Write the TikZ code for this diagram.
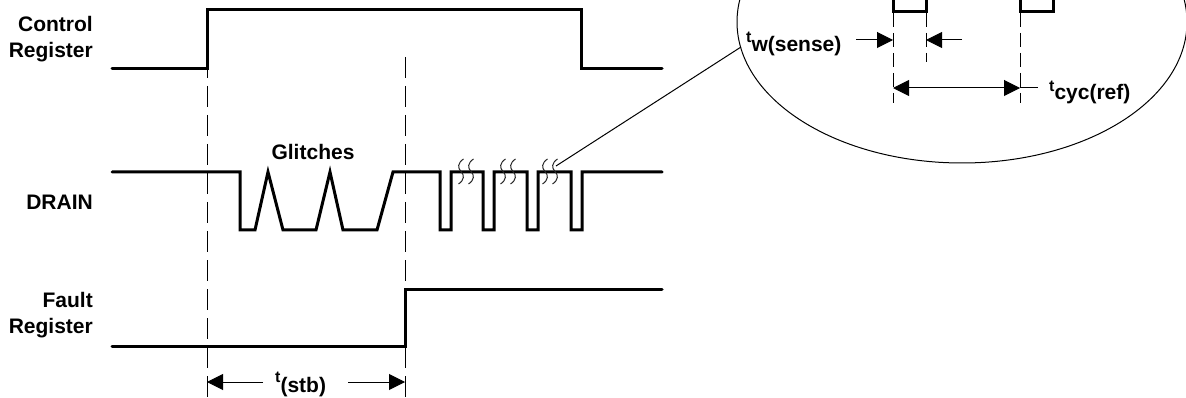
\documentclass[tikz,border=0pt]{standalone}
\usepackage{fontspec}
\setmainfont{Liberation Sans}
\usetikzlibrary{arrows.meta}
\newcommand\tsubx[2][-9pt]{{\fontsize{16}{16}\selectfont t}\raisebox{#1}{#2}}
\begin{document}
\begin{tikzpicture}[x=1pt,y=-1pt,
  sig/.style={line width=3pt,line join=miter,line cap=round},
  guide/.style={line width=1pt,dash pattern=on 21pt off 8pt},
  guidesmall/.style={line width=1pt,dash pattern=on 14pt off 6pt},
  thin/.style={line width=1pt},
  dim/.style={line width=1pt,-{Triangle[length=16pt,width=16pt]}},
  lbl/.style={inner sep=0pt,font=\fontsize{21}{25}\selectfont\bfseries}]
\useasboundingbox (0,0) rectangle (1186,398);
\clip (0,0) rectangle (1186,398);
% labels
\node[lbl,anchor=base east] (c1) at (93,32) {Control};
\node[lbl,anchor=base east] (c2) at (93,58) {Register};
\node[lbl,anchor=base east] (dr) at (93,210) {DRAIN};
\node[lbl,anchor=base east] (f1) at (93,307) {Fault};
\node[lbl,anchor=base east] (f2) at (93,333) {Register};
\node[lbl,anchor=base] (gl) at (313,160) {Glitches};
% guide lines
\draw[guide] (207,57) -- (207,398);
\draw[guide] (405,57) -- (405,398);
% control register
\draw[sig] (112,69) -- (207,69) -- (207,10) -- (581,10) -- (581,69) -- (662,69);
% drain
\draw[sig] (112,172) -- (240,172) -- (240,230) -- (255,230) -- (268,172) -- (283,230)
  -- (316,230) -- (330,172) -- (343,230) -- (377,230) -- (393,172) -- (440,172)
  -- (440,230) -- (451,230) -- (451,172) -- (483,172) -- (483,230) -- (494,230)
  -- (494,172) -- (527,172) -- (527,230) -- (538,230) -- (538,172) -- (571,172)
  -- (571,230) -- (582,230) -- (582,172) -- (662,172);
% squiggles
\foreach \x in {461,471,503,513,545,555}{
  \draw[line width=1pt,black!85] (\x+2.5,159) .. controls (\x-3.5,163) and (\x-3.5,168) .. (\x,171.5)
    .. controls (\x+3.5,175) and (\x+3.5,180) .. (\x-2.5,184);
}
% fault register
\draw[sig] (112,346) -- (405,346) -- (405,289) -- (662,289);
% t(stb)
\draw[dim] (263,382) -- (207,382);
\draw[dim] (348,382) -- (405,382);
\node[lbl,anchor=base west] (tstb) at (275,382) {\tsubx[-10pt]{(stb)}};
% magnifier
\coordinate (lead1) at (556,166);
\coordinate (lead2) at (741,47);
\draw[thin] (lead1) -- (lead2);
\draw[thin] (962,22) ellipse [x radius=225pt, y radius=141pt];
\draw[sig] (893,-5) -- (893,12) -- (926,12) -- (926,-5);
\draw[sig] (1020,-5) -- (1020,12) -- (1053,12) -- (1053,-5);
\draw[guidesmall] (893,13) -- (893,103);
\draw[guidesmall] (926,13) -- (926,62);
\draw[guidesmall] (1020,13) -- (1020,103);
\draw[dim] (856,40) -- (893,40);
\draw[dim] (962,40) -- (926,40);
\node[lbl,anchor=base west] (tw) at (746,43) {\tsubx{w(sense)}};
\draw[line width=1pt,{Triangle[length=16pt,width=16pt]}-{Triangle[length=16pt,width=16pt]}] (893,88) -- (1020,88);
\draw[thin] (1020,88) -- (1038,88);
\node[lbl,anchor=base west] (tc) at (1049,92) {\tsubx[-8pt]{cyc(ref)}};
\end{tikzpicture}
\end{document}
